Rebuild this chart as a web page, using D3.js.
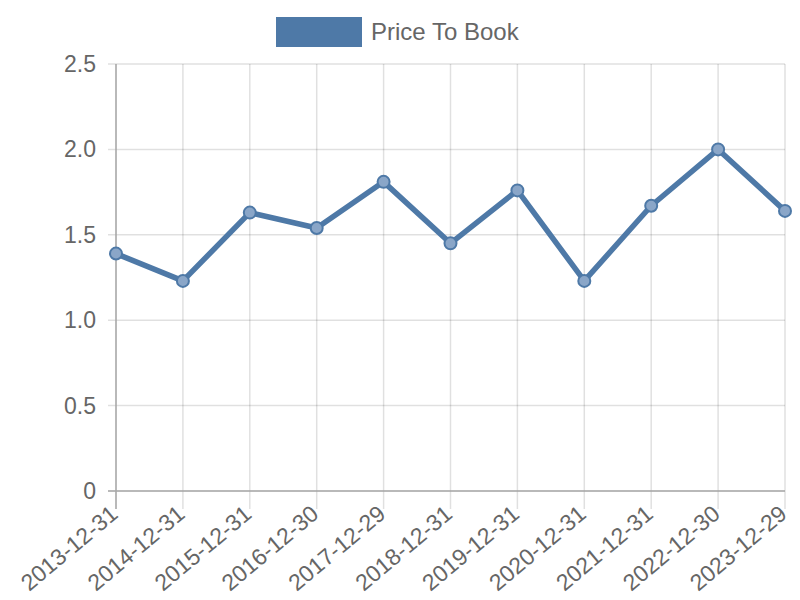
<!DOCTYPE html>
<html><head><meta charset="utf-8">
<script src="https://cdn.jsdelivr.net/npm/d3@7"></script>
<style>body{margin:0;background:#fff}svg{display:block;font-family:"Liberation Sans",Arial,sans-serif}</style>
</head><body><svg id="c" width="800" height="600"></svg>
<script>
const categories = ["2013-12-31","2014-12-31","2015-12-31","2016-12-30","2017-12-29","2018-12-31","2019-12-31","2020-12-31","2021-12-31","2022-12-30","2023-12-29"];
const priceToBook = [1.39,1.23,1.63,1.54,1.81,1.45,1.76,1.23,1.67,2.0,1.64];
const yTicks = [0,0.5,1.0,1.5,2.0,2.5];
const seriesName = "Price To Book";

const svg = d3.select("#c");
const L=116,R=785,T=64,B=491;
const x = d3.scalePoint().domain(categories).range([L,R]);
const y = d3.scaleLinear().domain([0,2.5]).range([B,T]);
const blue = "#4e79a7";

// grid
const g = svg.append("g");
g.selectAll(".hg").data(yTicks).enter().append("line")
 .attr("x1",L-8).attr("x2",R).attr("y1",d=>y(d)).attr("y2",d=>y(d))
 .attr("stroke","rgba(0,0,0,0.12)").attr("stroke-width",1.5);
g.selectAll(".vg").data(categories).enter().append("line")
 .attr("x1",d=>x(d)).attr("x2",d=>x(d)).attr("y1",T).attr("y2",B+18)
 .attr("stroke","rgba(0,0,0,0.12)").attr("stroke-width",1.5);
// axis lines
svg.append("line").attr("x1",L).attr("x2",L).attr("y1",T).attr("y2",B+18).attr("stroke","#aaa").attr("stroke-width",1.5);
svg.append("line").attr("x1",L-8).attr("x2",R).attr("y1",B).attr("y2",B).attr("stroke","#aaa").attr("stroke-width",1.5);

// y labels
svg.selectAll(".yl").data(yTicks).enter().append("text")
 .attr("x",L-20).attr("y",d=>y(d)).attr("dy","0.35em").attr("text-anchor","end")
 .attr("fill","#666").attr("font-size",23).text(d=>d===0?"0":d.toFixed(1));
// x labels
svg.selectAll(".xl").data(categories).enter().append("text")
 .attr("transform",d=>`translate(${x(d)-7},${B+13}) rotate(-40)`)
 .attr("text-anchor","end").attr("dy","0.7em")
 .attr("fill","#666").attr("font-size",23).text(d=>d);

// line
const line = d3.line().x((d,i)=>x(categories[i])).y(d=>y(d));
svg.append("path").datum(priceToBook).attr("d",line).attr("fill","none")
 .attr("stroke",blue).attr("stroke-width",5.5).attr("stroke-linejoin","round");
svg.selectAll(".pt").data(priceToBook).enter().append("circle")
 .attr("cx",(d,i)=>x(categories[i])).attr("cy",d=>y(d)).attr("r",6)
 .attr("fill","#8aa6c8").attr("stroke",blue).attr("stroke-width",2);

// legend
svg.append("rect").attr("x",276).attr("y",17).attr("width",86).attr("height",30).attr("fill",blue);
svg.append("text").attr("x",371).attr("y",32).attr("dy","0.35em").attr("fill","#666").attr("font-size",24).text(seriesName);
</script></body></html>
